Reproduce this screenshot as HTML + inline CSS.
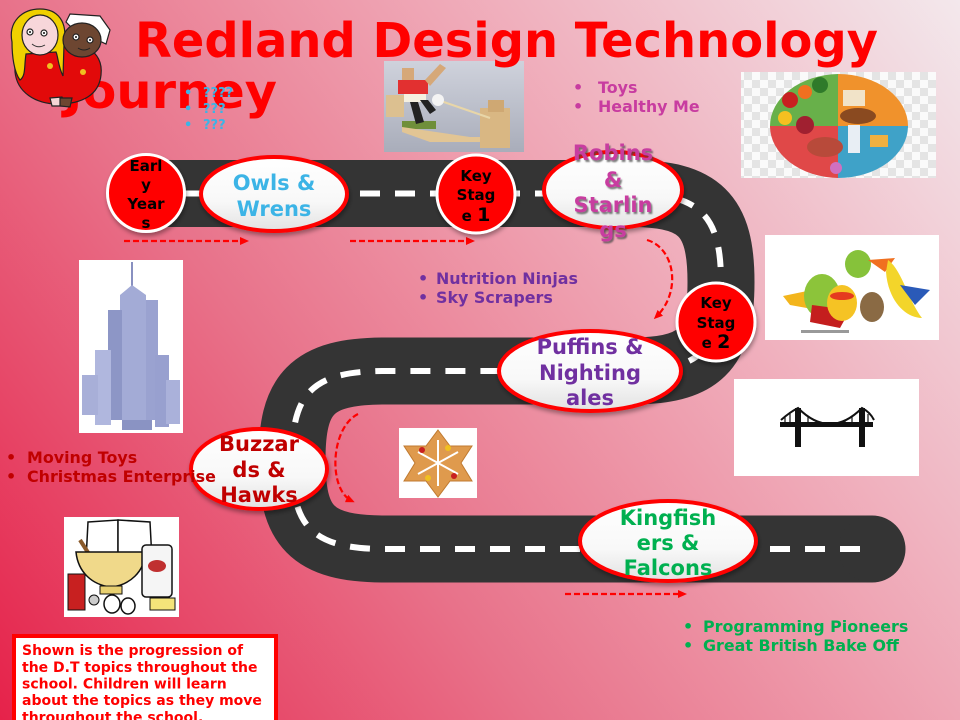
<!DOCTYPE html>
<html><head><meta charset="utf-8"><style>
html,body{margin:0;padding:0;width:960px;height:720px;overflow:hidden}
svg{display:block}
text{font-family:"DejaVu Sans","Liberation Sans",sans-serif;font-weight:bold}
</style></head><body>
<svg width="960" height="720" viewBox="0 0 960 720" xmlns="http://www.w3.org/2000/svg">
<defs>
<linearGradient id="bg" gradientUnits="userSpaceOnUse" x1="0" y1="720" x2="960" y2="0">
<stop offset="0" stop-color="#e6224a"/>
<stop offset="0.36" stop-color="#e8728a"/>
<stop offset="0.5" stop-color="#ec8c9f"/>
<stop offset="0.64" stop-color="#efa6b5"/>
<stop offset="1" stop-color="#f3e8ec"/>
</linearGradient>
<linearGradient id="ell" x1="0" y1="0" x2="0" y2="1">
<stop offset="0" stop-color="#ffffff"/><stop offset="0.6" stop-color="#f8f8f8"/><stop offset="1" stop-color="#e2e2e2"/>
</linearGradient>
<linearGradient id="foot" x1="0" y1="0" x2="0" y2="1">
<stop offset="0" stop-color="#cfd2dc"/><stop offset="1" stop-color="#a9adba"/>
</linearGradient>
<filter id="sh" x="-20%" y="-20%" width="140%" height="160%"><feDropShadow dx="1" dy="3" stdDeviation="2" flood-color="#000" flood-opacity="0.35"/></filter>
<filter id="tsh" x="-10%" y="-10%" width="130%" height="130%"><feDropShadow dx="1.5" dy="2" stdDeviation="0.8" flood-color="#444" flood-opacity="0.7"/></filter>
<marker id="ah" markerWidth="9" markerHeight="8" refX="6" refY="4" orient="auto" markerUnits="userSpaceOnUse"><path d="M0,0 L9,4 L0,8 z" fill="#f00"/></marker>
<pattern id="chk" width="16" height="16" patternUnits="userSpaceOnUse"><rect width="16" height="16" fill="#fafafa"/><rect width="8" height="8" fill="#e4e4e4"/><rect x="8" y="8" width="8" height="8" fill="#e4e4e4"/></pattern>
</defs>
<rect width="960" height="720" fill="url(#bg)"/>

<!-- road -->
<path d="M150,193.5 H630 C700,193.5 721,215 721,282 C721,350 700,371 630,371 H385 C310,371 292,395 292,460 C292,525 310,549 385,549 H872" fill="none" stroke="#343434" stroke-width="67"/>
<circle cx="872" cy="549" r="33.5" fill="#343434"/>
<path d="M150,193.5 H630 C700,193.5 721,215 721,282 C721,350 700,371 630,371 H385 C310,371 292,395 292,460 C292,525 310,549 385,549 H864" fill="none" stroke="#fff" stroke-width="6" stroke-dasharray="20 15"/>

<!-- red dashed arrows -->
<g fill="none" stroke="#f00" stroke-width="2.2" stroke-dasharray="6 3">
<path d="M124,241 H246" marker-end="url(#ah)"/>
<path d="M350,241 H472" marker-end="url(#ah)"/>
<path d="M647,240 C675,248 682,292 656,317" marker-end="url(#ah)"/>
<path d="M358,414 C330,428 328,490 352,501" marker-end="url(#ah)"/>
<path d="M565,594 H684" marker-end="url(#ah)"/>
</g>

<!-- football toy image -->
<g>
<rect x="384" y="61" width="140" height="91" fill="url(#foot)"/>
<rect x="402" y="121" width="34" height="8" fill="#6f8f3a"/>
<polygon points="402,127 470,137 500,137 500,142 430,142 402,132" fill="#e2c594"/>
<rect x="480" y="108" width="30" height="40" fill="#d9b783"/>
<rect x="488" y="100" width="16" height="12" fill="#cfa873"/>
<line x1="438" y1="100" x2="490" y2="118" stroke="#e8d6a8" stroke-width="2"/>
<rect x="402" y="68" width="12" height="14" fill="#d6a878"/>
<rect x="398" y="80" width="30" height="14" fill="#e23030"/>
<rect x="404" y="94" width="22" height="8" fill="#f5f0e0"/>
<polygon points="410,102 418,102 424,122 416,124" fill="#222"/>
<polygon points="420,100 428,100 436,110 430,114" fill="#222"/>
<circle cx="438" cy="100" r="6" fill="#f4f4f4"/>
<rect x="386" y="95" width="18" height="22" fill="#dcc090"/>
<polygon points="425,80 440,64 446,68 430,86" fill="#d6a878"/>
</g>

<!-- food plate -->
<g>
<rect x="741" y="72" width="195" height="106" fill="url(#chk)"/>
<path d="M838,126 L838,74 A70,52 0 0 0 770,126 Z" fill="#68b04a"/>
<path d="M838,126 L838,74 A70,52 0 0 1 908,126 Z" fill="#f0922c"/>
<path d="M838,126 L770,126 A70,52 0 0 0 838,178 Z" fill="#e04848"/>
<path d="M838,126 L908,126 A70,52 0 0 1 838,178 Z" fill="#3fa2c8"/>
<circle cx="790" cy="100" r="8" fill="#c82020"/>
<circle cx="805" cy="92" r="7" fill="#f07020"/>
<circle cx="820" cy="85" r="8" fill="#2f7a2a"/>
<circle cx="785" cy="118" r="7" fill="#f5c020"/>
<circle cx="805" cy="125" r="9" fill="#a02030"/>
<rect x="843" y="90" width="22" height="16" fill="#f1e3c8"/>
<ellipse cx="858" cy="116" rx="18" ry="8" fill="#8a4a20"/>
<rect x="848" y="125" width="12" height="28" fill="#e8eef4"/>
<ellipse cx="825" cy="147" rx="18" ry="10" fill="#b84a3a"/>
<circle cx="836" cy="168" r="6" fill="#d070c0"/>
<rect x="870" y="135" width="18" height="12" fill="#f0b040"/>
</g>

<!-- fruit superheroes -->
<g>
<rect x="765" y="235" width="174" height="105" fill="#fff"/>
<path d="M783,296 L812,290 L818,310 L790,305 Z" fill="#f3b51c"/>
<ellipse cx="822" cy="296" rx="18" ry="22" fill="#8cc43a"/>
<path d="M812,305 L850,310 L840,328 L810,322 Z" fill="#c41e1e"/>
<ellipse cx="842" cy="303" rx="15" ry="18" fill="#f5c324"/>
<ellipse cx="842" cy="296" rx="12" ry="4" fill="#e53a1f"/>
<ellipse cx="858" cy="264" rx="13" ry="14" fill="#86c23a"/>
<path d="M868,260 L895,258 L885,272 Z" fill="#f07020"/>
<ellipse cx="872" cy="307" rx="12" ry="15" fill="#8a6a44"/>
<path d="M888,260 C902,270 908,300 922,318 C905,318 888,300 886,272 Z" fill="#f3d52a"/>
<path d="M900,285 L930,290 L915,305 Z" fill="#2a5ab8"/>
<rect x="801" y="330" width="48" height="3" fill="#999"/>
</g>

<!-- bridge -->
<g>
<rect x="734" y="379" width="185" height="97" fill="#fff"/>
<rect x="780" y="422" width="93" height="5" fill="#111"/>
<rect x="795" y="408" width="6" height="39" fill="#111"/>
<rect x="859" y="408" width="6" height="39" fill="#111"/>
<path d="M781,420 Q790,412 798,408 Q830,440 862,408 Q870,412 874,420" fill="none" stroke="#111" stroke-width="2"/>
<g stroke="#111" stroke-width="1.2">
<line x1="785" y1="416" x2="785" y2="423"/><line x1="790" y1="413" x2="790" y2="423"/>
<line x1="808" y1="416" x2="808" y2="423"/><line x1="816" y1="421" x2="816" y2="423"/>
<line x1="845" y1="421" x2="845" y2="423"/><line x1="852" y1="416" x2="852" y2="423"/>
<line x1="868" y1="414" x2="868" y2="423"/>
</g>
</g>

<!-- skyscraper -->
<g>
<rect x="79" y="260" width="104" height="173" fill="#fff"/>
<line x1="132" y1="262" x2="132" y2="290" stroke="#8890c0" stroke-width="2"/>
<polygon points="120,295 132,285 146,295 146,420 120,420" fill="#a3abd6"/>
<rect x="108" y="310" width="14" height="110" fill="#8d96c6"/>
<rect x="146" y="300" width="12" height="120" fill="#9aa2d0"/>
<rect x="95" y="350" width="16" height="75" fill="#b0b7de"/>
<rect x="82" y="375" width="16" height="40" fill="#a8afd8"/>
<rect x="155" y="355" width="14" height="72" fill="#98a0cf"/>
<rect x="166" y="380" width="14" height="44" fill="#aab1da"/>
<rect x="122" y="420" width="30" height="10" fill="#8a93c3"/>
</g>

<!-- cookie -->
<g>
<rect x="399" y="428" width="78" height="70" fill="#fff"/>
<polygon points="438,430 450,446 472,446 461,463 472,481 450,481 438,497 426,481 404,481 415,463 404,446 426,446" fill="#df9a4d" stroke="#c07a30" stroke-width="1"/>
<g stroke="#fff" stroke-width="2"><line x1="438" y1="440" x2="438" y2="486"/><line x1="418" y1="452" x2="458" y2="474"/><line x1="418" y1="474" x2="458" y2="452"/></g>
<circle cx="422" cy="450" r="3" fill="#c82020"/><circle cx="454" cy="476" r="3" fill="#c82020"/><circle cx="448" cy="448" r="3" fill="#f0c020"/><circle cx="428" cy="478" r="3" fill="#f0c020"/>
</g>

<!-- baking -->
<g>
<rect x="64" y="517" width="115" height="100" fill="#fff"/>
<path d="M88,522 L118,520 L118,560 L86,560 Z" fill="#fff" stroke="#111" stroke-width="1.5"/>
<path d="M118,520 L150,522 L152,560 L118,560 Z" fill="#fff" stroke="#111" stroke-width="1.5"/>
<line x1="80" y1="540" x2="96" y2="565" stroke="#8a5a2a" stroke-width="4"/>
<path d="M76,552 L146,552 C144,572 130,585 111,587 C92,585 78,572 76,552 Z" fill="#f0d98a" stroke="#111" stroke-width="1.5"/>
<rect x="100" y="586" width="22" height="8" fill="#e8d070" stroke="#111"/>
<rect x="142" y="545" width="30" height="52" rx="4" fill="#f5f5f5" stroke="#111" stroke-width="1.5"/>
<ellipse cx="157" cy="566" rx="9" ry="6" fill="#c03030"/>
<rect x="68" y="574" width="17" height="36" fill="#c82020" stroke="#111"/>
<ellipse cx="112" cy="604" rx="8" ry="9" fill="#fff" stroke="#111" stroke-width="1.5"/>
<ellipse cx="128" cy="606" rx="7" ry="8" fill="#fff" stroke="#111" stroke-width="1.5"/>
<rect x="150" y="598" width="25" height="12" fill="#f4e47a" stroke="#111"/>
<circle cx="94" cy="600" r="5" fill="#ccc" stroke="#111"/>
</g>

<!-- title -->
<text x="135" y="57" font-size="48" fill="#f00" textLength="743" lengthAdjust="spacingAndGlyphs">Redland Design Technology</text>
<text x="64" y="108" font-size="48" fill="#f00" textLength="213" lengthAdjust="spacingAndGlyphs">Journey</text>

<!-- characters -->
<g stroke="#222" stroke-width="1.2">
<path d="M15,72 C13,50 35,42 58,45 C80,40 104,50 101,75 C99,95 82,104 58,104 C35,104 17,92 15,72 Z" fill="#e20a0a"/>
<path d="M12,42 C8,22 22,9 40,9 C58,9 68,22 64,44 L63,76 C58,66 58,56 56,52 L26,54 C24,66 26,76 20,80 C14,72 12,56 12,42 Z" fill="#f0d000"/>
<ellipse cx="40" cy="35" rx="18" ry="20" fill="#f7d6da"/>
<path d="M66,22 L70,14 L100,16 L110,30 L106,44 L72,28 Z" fill="#fff"/>
<ellipse cx="82" cy="40" rx="19" ry="17" fill="#6d4631"/>
<circle cx="30" cy="32" r="3" fill="#fff"/><circle cx="44" cy="33" r="3" fill="#fff"/>
<circle cx="76" cy="37" r="3" fill="#fff"/><circle cx="90" cy="40" r="3" fill="#fff"/>
<path d="M50,98 L62,97 L66,106 L52,106 Z" fill="#f5d5d5"/>
<path d="M60,98 L72,98 L70,107 L60,106 Z" fill="#6d4631"/>
</g>
<g fill="#111"><circle cx="30" cy="32" r="1"/><circle cx="44" cy="33" r="1"/><circle cx="76" cy="37" r="1"/><circle cx="90" cy="40" r="1"/></g>
<path d="M32,44 Q38,49 45,45" fill="none" stroke="#333" stroke-width="1"/>
<path d="M78,48 Q84,52 90,48" fill="none" stroke="#222" stroke-width="1"/>
<circle cx="50" cy="66" r="3" fill="#f0c020"/><circle cx="83" cy="72" r="3" fill="#f0c020"/>

<!-- blue bullets -->
<g font-size="13" fill="#3cb4e6">
<text x="184" y="97">•</text><text x="203" y="97">????</text>
<text x="184" y="113">•</text><text x="203" y="113">???</text>
<text x="184" y="129">•</text><text x="203" y="129">???</text>
</g>

<!-- ellipses -->
<g fill="url(#ell)" stroke="#f00" stroke-width="4" filter="url(#sh)">
<ellipse cx="274" cy="194" rx="73" ry="37"/>
<ellipse cx="613" cy="190" rx="69" ry="38"/>
<ellipse cx="590" cy="371" rx="91" ry="40"/>
<ellipse cx="259" cy="469" rx="68" ry="40"/>
<ellipse cx="668" cy="541" rx="88" ry="40"/>
</g>
<!-- circles -->
<g fill="#f00" stroke="#fff" stroke-width="3" filter="url(#sh)">
<circle cx="146" cy="193" r="38.5"/>
<circle cx="476" cy="194" r="39"/>
<circle cx="716" cy="322" r="39"/>
</g>

<!-- circle texts -->
<g font-size="15" fill="#000" text-anchor="middle">
<text x="146" y="171">Earl</text><text x="146" y="190">y</text><text x="146" y="209">Year</text><text x="146" y="228">s</text>
<text x="476" y="181">Key</text><text x="476" y="200">Stag</text><text x="476" y="221">e <tspan font-size="19">1</tspan></text>
<text x="716" y="308">Key</text><text x="716" y="328">Stag</text><text x="716" y="348">e <tspan font-size="19">2</tspan></text>
</g>

<!-- ellipse texts -->
<g font-size="21" text-anchor="middle">
<text x="274" y="190" fill="#3cb4e6">Owls &amp;</text><text x="274" y="216" fill="#3cb4e6">Wrens</text>
<g fill="#c83ca0" filter="url(#tsh)">
<text x="613" y="160">Robins</text><text x="613" y="187">&amp;</text><text x="613" y="212">Starlin</text><text x="613" y="237">gs</text>
</g>
<text x="590" y="354" fill="#7030a0">Puffins &amp;</text><text x="590" y="380" fill="#7030a0">Nighting</text><text x="590" y="405" fill="#7030a0">ales</text>
<text x="259" y="451" fill="#c00000">Buzzar</text><text x="259" y="477" fill="#c00000">ds &amp;</text><text x="259" y="502" fill="#c00000">Hawks</text>
<text x="668" y="525" fill="#00b050">Kingfish</text><text x="668" y="550" fill="#00b050">ers &amp;</text><text x="668" y="575" fill="#00b050">Falcons</text>
</g>

<!-- bullet lists -->
<g font-size="15.9">
<g fill="#c83ca0"><text x="573" y="93">•</text><text x="598" y="93">Toys</text><text x="573" y="112">•</text><text x="598" y="112">Healthy Me</text></g>
<g fill="#7030a0"><text x="418" y="284">•</text><text x="436" y="284">Nutrition Ninjas</text><text x="418" y="303">•</text><text x="436" y="303">Sky Scrapers</text></g>
<g fill="#c00000"><text x="6" y="463">•</text><text x="27" y="463">Moving Toys</text><text x="6" y="482">•</text><text x="27" y="482">Christmas Enterprise</text></g>
<g fill="#00b050"><text x="683" y="632">•</text><text x="703" y="632">Programming Pioneers</text><text x="683" y="651">•</text><text x="703" y="651">Great British Bake Off</text></g>
</g>

<!-- info box -->
<rect x="14" y="636" width="262" height="100" fill="#fff" stroke="#f00" stroke-width="4"/>
<g font-size="14" fill="#f00">
<text x="22" y="655">Shown is the progression of</text>
<text x="22" y="672">the D.T topics throughout the</text>
<text x="22" y="688.5">school. Children will learn</text>
<text x="22" y="705">about the topics as they move</text>
<text x="22" y="722">throughout the school.</text>
</g>
</svg>
</body></html>
